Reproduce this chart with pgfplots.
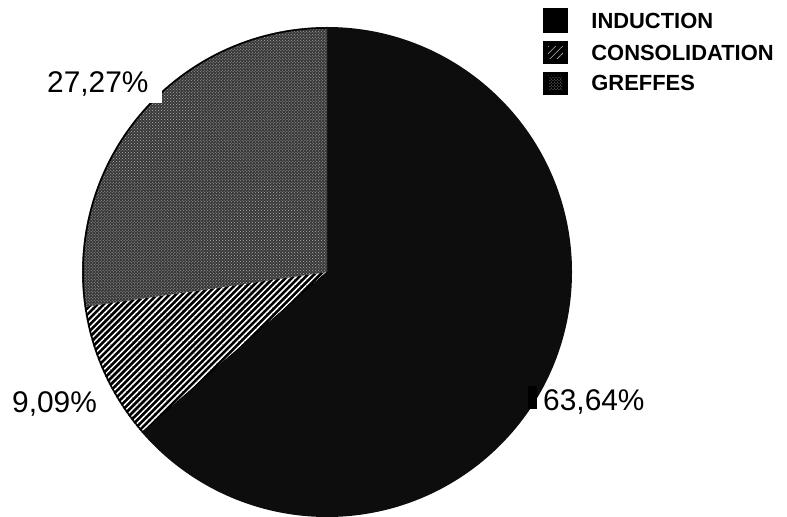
\documentclass[border=0pt]{standalone}
\usepackage{pgfplots}
\pgfplotsset{compat=1.18}
\usepackage{pgfplotstable}
\usetikzlibrary{patterns,patterns.meta}
\usepackage{fontspec}
\setmainfont{Liberation Sans}

\pgfplotstableread{
name value
INDUCTION 63.64
CONSOLIDATION 9.09
GREFFES 27.27
}\piedata

\newcommand\lf{\fontsize{22}{24}\selectfont\bfseries}

\begin{document}
\begin{tikzpicture}
\begin{axis}[
  scale only axis, width=787bp, height=517bp,
  xmin=0, xmax=787, ymin=0, ymax=517,
  hide axis, clip=false,
  legend style={at={(axis cs:543,509)}, anchor=north west, draw=none, fill=none,
    inner sep=0pt, outer sep=0pt, row sep=8.5bp,
    nodes={inner sep=0pt, text height=16bp, text depth=0pt, font=\lf}},
  legend cell align=left,
  /tikz/every odd column/.append style={column sep=24bp},
]
\path (axis cs:0,0) rectangle (axis cs:787,517);
\pgfplotstablegetelem{0}{value}\of\piedata \let\va\pgfplotsretval
\pgfplotstablegetelem{1}{value}\of\piedata \let\vb\pgfplotsretval
\pgfplotstablegetelem{2}{value}\of\piedata \let\vc\pgfplotsretval
\pgfmathsetmacro{\aA}{90}
\pgfmathsetmacro{\aB}{90-3.6*\va}
\pgfmathsetmacro{\aC}{\aB-3.6*\vb}
\pgfmathsetmacro{\aD}{\aC-3.6*\vc}
% INDUCTION
\fill[black!95] (axis cs:327,245) -- ++(\aA:245bp) arc[start angle=\aA, end angle=\aB, radius=245bp] -- cycle;
% CONSOLIDATION
\fill[black] (axis cs:327,245) -- ++(\aB:245bp) arc[start angle=\aB, end angle=\aC, radius=245bp] -- cycle;
\fill[pattern={Lines[angle=45, distance=4.4bp, line width=1.5bp]}, pattern color=white] (axis cs:327,245) -- ++(\aB:245bp) arc[start angle=\aB, end angle=\aC, radius=245bp] -- cycle;
% GREFFES
\fill[black!78] (axis cs:327,245) -- ++(\aC:245bp) arc[start angle=\aC, end angle=\aD, radius=245bp] -- cycle;
\fill[pattern=crosshatch dots, pattern color=white!70!black] (axis cs:327,245) -- ++(\aC:245bp) arc[start angle=\aC, end angle=\aD, radius=245bp] -- cycle;
\draw[black, line width=1.5bp] (axis cs:327,245) ++(\aB:244bp) arc[start angle=\aB, end angle=\aD, radius=244bp];
\draw[black, line width=0.8bp] (axis cs:327,245) -- ++(\aB:245bp);
% leader marks
\fill[white] (axis cs:149,414) rectangle (axis cs:162,428);
\fill[black] (axis cs:528,108) rectangle (axis cs:537,131);
% labels
\node[anchor=base west, inner sep=0pt, font=\fontsize{30}{32}\selectfont] at (axis cs:47,424) {27,27\%};
\node[anchor=base west, inner sep=0pt, font=\fontsize{30}{32}\selectfont] at (axis cs:12,104) {9,09\%};
\node[anchor=base west, inner sep=0pt, font=\fontsize{30}{32}\selectfont] at (axis cs:543,106) {63,64\%};
% legend
\addlegendimage{legend image code/.code={\fill[black] (0bp,-12bp) rectangle (24bp,12bp);}}
\addlegendentry{\lf INDUCTION}
\addlegendimage{legend image code/.code={\fill[black] (0bp,-11bp) rectangle (24bp,11bp);
  \fill[pattern={Lines[angle=45, distance=5bp, line width=0.8bp]}, pattern color=white!60!black] (4bp,-7bp) rectangle (20bp,7bp);}}
\addlegendentry{\lf CONSOLIDATION}
\addlegendimage{legend image code/.code={\fill[black] (0bp,-11bp) rectangle (24bp,11bp);
  \fill[pattern=crosshatch dots, pattern color=white!60!black] (5bp,-7bp) rectangle (19bp,7bp);}}
\addlegendentry{\lf GREFFES}
\end{axis}
\end{tikzpicture}
\end{document}
